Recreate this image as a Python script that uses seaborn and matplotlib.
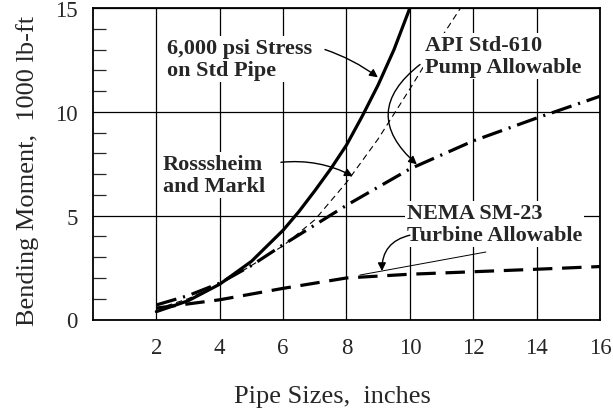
import matplotlib
matplotlib.use("Agg")
import matplotlib.pyplot as plt
import numpy as np
import pandas as pd
import seaborn as sns

# ---- data ----
stress_sizes = [2, 3, 4, 5, 6, 6.5, 7, 7.5, 8, 8.5, 9, 9.5, 10]
stress_moment = [0.38, 0.9, 1.7, 2.8, 4.3, 5.2, 6.2, 7.25, 8.4, 9.8, 11.3, 13.0, 15.0]

rm_sizes = [2, 3, 4, 5, 6, 7, 8, 9, 10, 11, 11.6]
rm_moment = [0.5, 1.0, 1.7, 2.6, 3.55, 4.8, 6.6, 8.7, 11.1, 13.6, 15.0]

api_sizes = [2, 3, 4, 5, 6, 8, 10, 12, 14, 16]
api_moment = [0.7, 1.15, 1.75, 2.6, 3.6, 5.5, 7.25, 8.6, 9.7, 10.75]

nema_sizes = [2, 4, 6, 8, 10, 12, 14, 16]
nema_moment = [0.55, 0.95, 1.5, 2.0, 2.18, 2.3, 2.42, 2.55]

x_ticks = [2, 4, 6, 8, 10, 12, 14, 16]
y_ticks = [0, 5, 10, 15]

sns.set_style("white")
plt.rcParams['font.family'] = ['Liberation Serif', 'DejaVu Serif']
plt.rcParams['lines.scale_dashes'] = False

fig = plt.figure(figsize=(6.13, 4.14), dpi=100)
W, H = 613, 414
ax = fig.add_axes([93 / W, 1 - 320.5 / H, 507 / W, 311.5 / H])

df_stress = pd.DataFrame({"size": stress_sizes, "moment": stress_moment})
df_rm = pd.DataFrame({"size": rm_sizes, "moment": rm_moment})
df_api = pd.DataFrame({"size": api_sizes, "moment": api_moment})
df_nema = pd.DataFrame({"size": nema_sizes, "moment": nema_moment})

sns.lineplot(data=df_stress, x="size", y="moment", ax=ax, color="black",
             lw=2.3, legend=False, zorder=3)
sns.lineplot(data=df_rm, x="size", y="moment", ax=ax, color="black",
             lw=0.8, legend=False, zorder=3)
ax.lines[-1].set_dashes([4.5, 3])
sns.lineplot(data=df_api, x="size", y="moment", ax=ax, color="black",
             lw=2.3, legend=False, zorder=3)
ax.lines[-1].set_dashes([15, 5, 1.5, 5])
sns.lineplot(data=df_nema, x="size", y="moment", ax=ax, color="black",
             lw=2.3, legend=False, zorder=3)
ax.lines[-1].set_dashes([14, 7])

ax.set_xlim(0, 16)
ax.set_ylim(0, 15)
ax.set_xticks(x_ticks)
ax.set_xticklabels([str(v) for v in x_ticks])
ax.set_yticks(y_ticks)
ax.set_yticklabels([str(v) for v in y_ticks])
ax.set_yticks([v for v in range(1, 15) if v % 5 != 0], minor=True)

ax.grid(True, which="major", color="black", lw=0.9)
ax.set_axisbelow(True)
for s in ax.spines.values():
    s.set_visible(True)
    s.set_color("black")
    s.set_linewidth(1.3)

ax.tick_params(axis="x", which="major", length=0, pad=12.5, labelsize=16.5)
ax.tick_params(axis="y", which="major", length=0, pad=11, labelsize=16.5)
ax.tick_params(axis="y", which="minor", direction="in", length=9.5,
               width=0.9, left=True, right=False)

ax.set_xlabel("Pipe Sizes,  inches", fontsize=19)
ax.set_ylabel("Bending Moment,  1000 lb-ft", fontsize=19)
ax.xaxis.set_label_coords(0.473, -0.21)
ax.yaxis.set_label_coords(-0.106, 0.479)

box = dict(facecolor="white", edgecolor="none", pad=1.5)
tkw = dict(fontsize=16, fontweight="bold", ha="left", va="center",
           linespacing=1.1, bbox=box, zorder=5)
ax.text(2.34, 12.55, "6,000 psi Stress\non Std Pipe", **tkw)
ax.text(2.21, 6.97, "Rosssheim\nand Markl", **tkw)
ax.text(10.48, 12.69, "API Std-610\nPump Allowable", **tkw)
ax.text(9.91, 4.59, "NEMA SM-23\nTurbine Allowable", **tkw)

akw = dict(arrowstyle="-|>", color="black", lw=1.0, mutation_scale=12,
           shrinkA=0, shrinkB=0)
ax.annotate("", xy=(8.99, 11.66), xytext=(7.32, 13.0),
            arrowprops=dict(connectionstyle="arc3,rad=-0.08", **akw), zorder=6)
ax.annotate("", xy=(8.2, 6.9), xytext=(5.93, 7.57),
            arrowprops=dict(connectionstyle="arc3,rad=-0.15", **akw), zorder=6)
ax.annotate("", xy=(10.22, 7.47), xytext=(10.32, 12.28),
            arrowprops=dict(connectionstyle="arc3,rad=0.6", **akw), zorder=6)
ax.annotate("", xy=(9.12, 2.33), xytext=(10.0, 4.06),
            arrowprops=dict(connectionstyle="arc3,rad=0.4", **akw), zorder=6)
ax.annotate("", xy=(8.42, 2.14), xytext=(12.4, 3.25),
            arrowprops=dict(arrowstyle="-", color="black", lw=0.7,
                            shrinkA=0, shrinkB=0), zorder=6)

fig.savefig("out.png", dpi=100)
